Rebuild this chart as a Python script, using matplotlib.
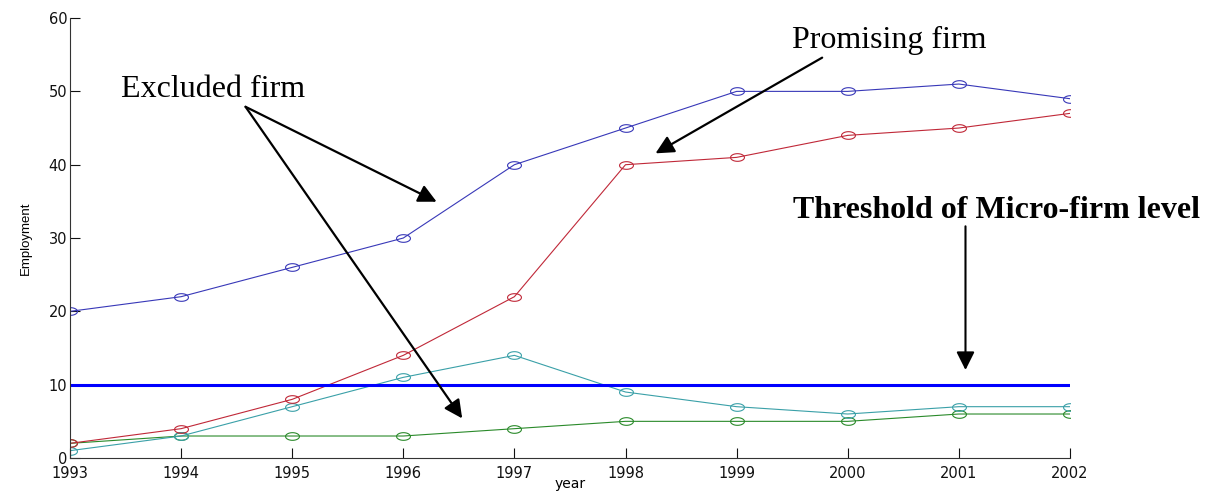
import matplotlib
matplotlib.use("Agg")
import numpy as np
import matplotlib.pyplot as plt
from matplotlib.path import Path

# data
years = [1993, 1994, 1995, 1996, 1997, 1998, 1999, 2000, 2001, 2002]
firm_blue = [20, 22, 26, 30, 40, 45, 50, 50, 51, 49]
firm_red = [2, 4, 8, 14, 22, 40, 41, 44, 45, 47]
firm_cyan = [1, 3, 7, 11, 14, 9, 7, 6, 7, 7]
firm_green = [2, 3, 3, 3, 4, 5, 5, 5, 6, 6]
threshold = 10

# flattened circle, the original markers are stretched sideways
t = np.linspace(0, 2 * np.pi, 40)
ellipse = Path(np.column_stack([np.cos(t), 0.55 * np.sin(t)]), closed=True)

fig = plt.figure(figsize=(12.15, 4.96), dpi=100)
ax = fig.add_axes([0.0576, 0.0766, 0.823, 0.887])

mk = dict(marker=ellipse, markersize=10, markerfacecolor="none", markeredgewidth=0.8, linewidth=0.8)
ax.plot(years, firm_green, color="#2a8a2a", markeredgecolor="#2a8a2a", **mk)
ax.plot(years, firm_cyan, color="#3aa0a8", markeredgecolor="#3aa0a8", **mk)
ax.plot(years, firm_red, color="#c02838", markeredgecolor="#c02838", **mk)
ax.plot(years, firm_blue, color="#3838b8", markeredgecolor="#3838b8", **mk)

ax.plot([years[0], years[-1]], [threshold, threshold], color="#0000ff", linewidth=2.2)

ax.set_xlim(1993, 2002)
ax.set_ylim(0, 60)
ax.set_xticks(years)
ax.set_yticks(range(0, 61, 10))
ax.tick_params(direction="in", length=7, labelsize=10.5, colors="#111111", pad=2)
ax.tick_params(axis="x", pad=6)
for s in ["top", "right"]:
    ax.spines[s].set_visible(False)
for s in ["left", "bottom"]:
    ax.spines[s].set_color("#333333")

ax.set_xlabel("year", fontsize=10, labelpad=-3)
ax.set_ylabel("Employment", fontsize=9.5, family="Liberation Sans", labelpad=12)

arr = dict(arrowstyle="-|>,head_length=0.5,head_width=0.25", color="black", lw=1.6,
           mutation_scale=22, shrinkA=0, shrinkB=0)
serif = dict(fontsize=23, family="Liberation Serif")

# excluded firm: two arrows out of one point
ax.text(1994.29, 49.3, "Excluded firm", ha="center", va="baseline", **serif)
ax.annotate("", xy=(1996.30, 34.95), xytext=(1994.58, 47.9), arrowprops=arr)
ax.annotate("", xy=(1996.53, 5.4), xytext=(1994.58, 47.9), arrowprops=arr)

ax.text(2000.37, 55.9, "Promising firm", ha="center", va="baseline", **serif)
ax.annotate("", xy=(1998.27, 41.55), xytext=(1999.77, 54.6), arrowprops=arr)

ax.text(1999.51, 32.7, "Threshold of Micro-firm level", weight="bold",
        ha="left", va="baseline", **serif)
ax.annotate("", xy=(2001.06, 12.0), xytext=(2001.06, 31.6),
            arrowprops=dict(arr, lw=1.5))

fig.savefig("out.png", dpi=100)
